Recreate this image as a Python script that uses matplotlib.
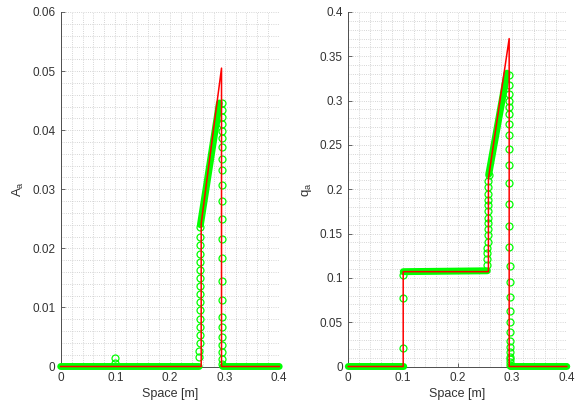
import matplotlib
matplotlib.use('Agg')
import matplotlib.pyplot as plt
from matplotlib.ticker import MultipleLocator
import numpy as np

plt.rcParams['font.family'] = ['Liberation Sans', 'DejaVu Sans']

nan = np.nan

# ---- left panel: A_a ----
# exact solution (red)
exA_x = [0, 0.2572, 0.2572, 0.2944, 0.2944, 0.4]
exA_y = [0, 0, 0.0242, 0.0505, 0, 0]
# numerical solution, dense parts (circles merge into a solid band)
bandA_x = [0, 0.2535, nan, 0.2558, 0.2905, nan, 0.2965, 0.4]
bandA_y = [0, 0, nan, 0.0240, 0.0446, nan, 0, 0]
# numerical solution, isolated circles
ptsA_x = [0.0995, 0.0995,
          0.2540, 0.2540, 0.2541, 0.2542, 0.2543, 0.2544, 0.2545, 0.2546, 0.2547,
          0.2548, 0.2549, 0.2550, 0.2551, 0.2552, 0.2553, 0.2554, 0.2555,
          0.2950, 0.2950, 0.2950, 0.2950, 0.2950, 0.2950, 0.2950, 0.2950, 0.2951,
          0.2951, 0.2951, 0.2952, 0.2952, 0.2953, 0.2954, 0.2955, 0.2956, 0.2957,
          0.2958, 0.2959, 0.2960, 0.2961, 0.2962]
ptsA_y = [0.0015, 0.0006,
          0.0016, 0.0027, 0.0039, 0.0053, 0.0067, 0.0081, 0.0095, 0.0109, 0.0123,
          0.0137, 0.0150, 0.0163, 0.0177, 0.0191, 0.0205, 0.0219, 0.0236,
          0.0446, 0.0434, 0.0423, 0.0411, 0.0399, 0.0386, 0.0371, 0.0352, 0.0332,
          0.0308, 0.0280, 0.0249, 0.0215, 0.0183, 0.0144, 0.0112, 0.0084, 0.0067,
          0.0050, 0.0036, 0.0024, 0.0013, 0.0005]

# ---- right panel: q_a ----
exQ_x = [0, 0.1005, 0.1005, 0.2565, 0.2565, 0.2945, 0.2945, 0.4]
exQ_y = [0, 0, 0.107, 0.107, 0.212, 0.370, 0, 0]
bandQ_x = [0, 0.1015, nan, 0.1005, 0.2545, nan, 0.2572, 0.2905, nan, 0.2970, 0.4]
bandQ_y = [0, 0, nan, 0.107, 0.108, nan, 0.217, 0.331, nan, 0, 0]
ptsQ_x = [0.1000, 0.1000, 0.1005,
          0.2545, 0.2546, 0.2547, 0.2548, 0.2549, 0.2550, 0.2551, 0.2552,
          0.2553, 0.2554, 0.2556, 0.2558, 0.2560, 0.2562, 0.2565, 0.2568,
          0.2950, 0.2950, 0.2950, 0.2950, 0.2950, 0.2950, 0.2950, 0.2950, 0.2950,
          0.2950, 0.2950, 0.2950, 0.2951, 0.2951, 0.2952, 0.2953, 0.2954, 0.2955,
          0.2956, 0.2957, 0.2958, 0.2959, 0.2960, 0.2961, 0.2962, 0.2963, 0.2964]
ptsQ_y = [0.021, 0.0776, 0.1028,
          0.114, 0.121, 0.128, 0.134, 0.141, 0.148, 0.155, 0.162,
          0.168, 0.175, 0.182, 0.188, 0.195, 0.202, 0.209, 0.216,
          0.329, 0.318, 0.308, 0.300, 0.293, 0.285, 0.274, 0.261, 0.245,
          0.227, 0.207, 0.183, 0.158, 0.135, 0.113, 0.095, 0.078, 0.063,
          0.050, 0.039, 0.029, 0.022, 0.016, 0.011, 0.008, 0.005, 0.002]

x_ticks = [0, 0.1, 0.2, 0.3, 0.4]
yA_ticks = [0, 0.01, 0.02, 0.03, 0.04, 0.05, 0.06]
yQ_ticks = [0, 0.05, 0.1, 0.15, 0.2, 0.25, 0.3, 0.35, 0.4]

green = '#00ff00'
red = '#ff0000'

fig = plt.figure(figsize=(5.82, 4.09), dpi=100)
ax1 = fig.add_axes([60.7 / 582, 42.5 / 409, 218.5 / 582, 354.5 / 409])
ax2 = fig.add_axes([348.3 / 582, 42.5 / 409, 218.5 / 582, 354.5 / 409])


def panel(ax, band_x, band_y, px, py, ex, ey, yticks, ymax, yminor, ylabel):
    ax.plot(band_x, band_y, color=green, lw=5.0, solid_capstyle='round', zorder=2)
    ax.plot(px, py, 'o', mfc='none', mec=green, ms=5.0, mew=0.9, zorder=3)
    ax.plot(ex, ey, color=red, lw=1.1, zorder=4)
    ax.set_xlim(0, 0.4)
    ax.set_ylim(0, ymax)
    ax.set_xticks(x_ticks)
    ax.set_xticklabels(['0', '0.1', '0.2', '0.3', '0.4'])
    ax.set_yticks(yticks)
    ax.set_yticklabels(['0'] + ['%g' % v for v in yticks[1:]])
    ax.xaxis.set_minor_locator(MultipleLocator(0.02))
    ax.yaxis.set_minor_locator(MultipleLocator(yminor))
    ax.grid(True, which='both', ls=':', color='#c8c8c8', lw=0.6)
    ax.set_axisbelow(True)
    for s in ['top', 'right']:
        ax.spines[s].set_visible(False)
    for s in ['left', 'bottom']:
        ax.spines[s].set_color('#4d4d4d')
        ax.spines[s].set_linewidth(0.7)
        ax.spines[s].set_zorder(1)
    ax.tick_params(which='major', direction='in', length=3, width=0.6, pad=4,
                   colors='#4d4d4d', labelcolor='#333333', labelsize=8.5)
    ax.tick_params(which='minor', length=0)
    ax.set_xlabel('Space [m]', fontsize=9, color='#333333', labelpad=3)
    ax.set_ylabel(ylabel, fontsize=9.5, color='#333333', labelpad=4)
    for l in ax.lines:
        l.set_clip_on(False)


panel(ax1, bandA_x, bandA_y, ptsA_x, ptsA_y, exA_x, exA_y, yA_ticks, 0.06, 0.002,
      r'A$_\mathregular{a}$')
panel(ax2, bandQ_x, bandQ_y, ptsQ_x, ptsQ_y, exQ_x, exQ_y, yQ_ticks, 0.4, 0.01,
      r'q$_\mathregular{a}$')

fig.savefig('out.png', dpi=100)
